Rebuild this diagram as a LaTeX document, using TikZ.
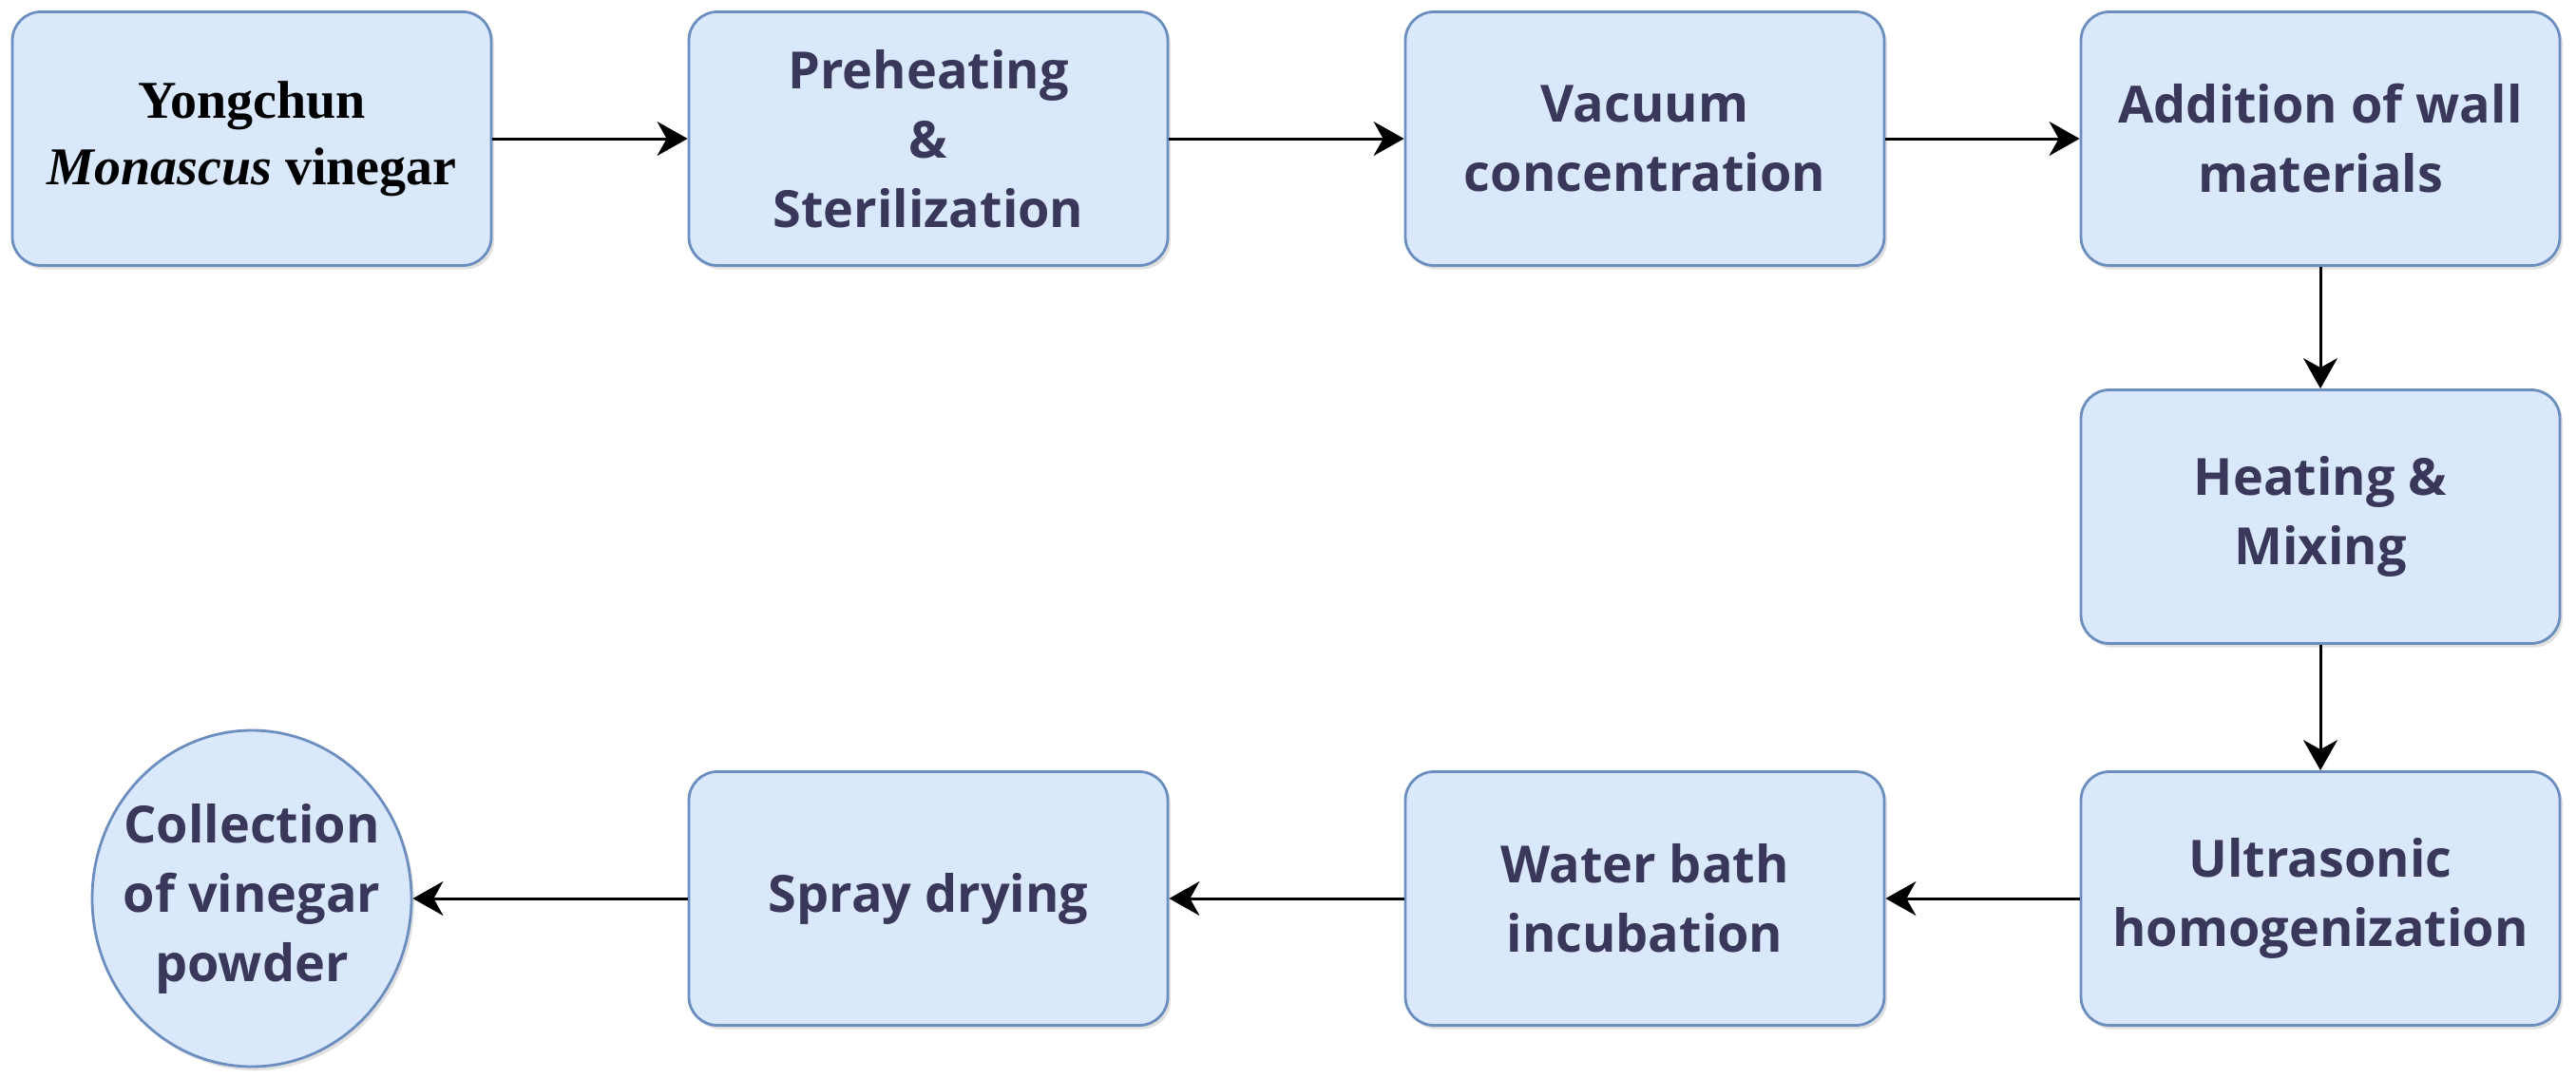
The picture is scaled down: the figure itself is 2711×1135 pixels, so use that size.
\documentclass[tikz,border=0pt]{standalone}
\usepackage{fontspec}
\setmainfont{Open Sans}
\newfontfamily\timesf{Liberation Serif}
\usetikzlibrary{arrows.meta,shapes.geometric}
\definecolor{boxfill}{HTML}{DAE8FC}
\definecolor{boxline}{HTML}{6C8EBF}
\definecolor{txt}{RGB}{58,56,90}
\tikzset{
  stepbox/.style={rectangle, rounded corners=15pt, draw=boxline, fill=boxfill,
    line width=1.4pt, minimum width=252pt, minimum height=133.5pt, inner sep=0pt},
  endell/.style={ellipse, draw=boxline, fill=boxfill, line width=1.4pt,
    minimum width=168pt, minimum height=177pt, inner sep=0pt},
  boxshd/.style={draw=none, fill=black, opacity=0.12},
  lbl/.style={align=center, text=txt, inner sep=0pt,
    font=\bfseries\fontsize{27}{36.5}\selectfont},
  serifl/.style={text=black, font=\timesf\bfseries\fontsize{28}{35}\selectfont},
  flow/.style={-{Stealth[length=16pt,width=18pt,inset=5pt]}, line width=1.5pt, black},
}
% #1 extra text style, #2 name, #3 shape style, #4 position, #5 text
\newcommand\stepat[5][]{%
  \node[#3, boxshd, xshift=1.5pt, yshift=-2pt] (#2bs) at (#4) {};
  \node[#3] (#2) at (#4) {};
  \node[lbl, #1] (#2t) at (#2.center) {#5};
}
\begin{document}
\begin{tikzpicture}[x=0.5pt, y=-0.5pt]
  \useasboundingbox (0,0) rectangle (2711,1135);
  \stepat[serifl]{b1}{stepbox}{265,146}{Yongchun\\\textit{Monascus} vinegar}
  \stepat{b2}{stepbox}{977,146}{Preheating\\\&\\Sterilization}
  \stepat{b3}{stepbox}{1731,146}{Vacuum\\concentration}
  \stepat{b4}{stepbox}{2442,146}{Addition of wall\\materials}
  \stepat{b5}{stepbox}{2442,544}{Heating \&\\Mixing}
  \stepat{b6}{stepbox}{2442,946}{Ultrasonic\\homogenization}
  \stepat{b7}{stepbox}{1731,946}{Water bath\\incubation}
  \stepat{b8}{stepbox}{977,946}{Spray drying}
  \stepat{e}{endell}{265,946}{Collection\\of vinegar\\powder}
  \draw[flow] (b1) -- (b2);
  \draw[flow] (b2) -- (b3);
  \draw[flow] (b3) -- (b4);
  \draw[flow] (b4) -- (b5);
  \draw[flow] (b5) -- (b6);
  \draw[flow] (b6) -- (b7);
  \draw[flow] (b7) -- (b8);
  \draw[flow] (b8) -- (e);
\end{tikzpicture}
\end{document}
